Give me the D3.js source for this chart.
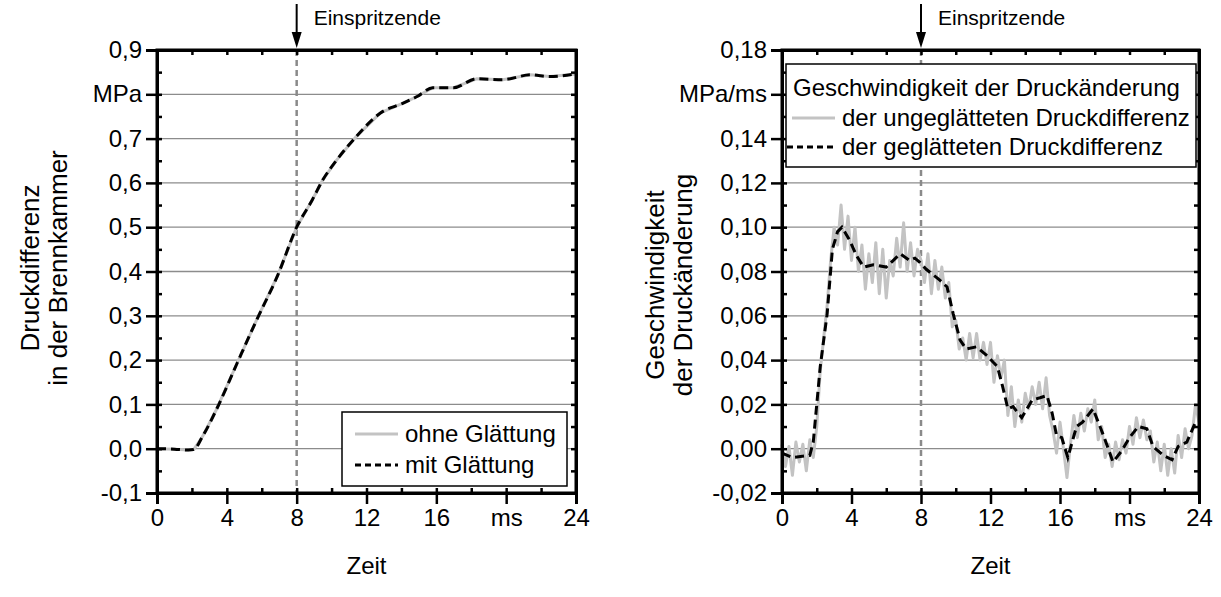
<!DOCTYPE html>
<html><head><meta charset="utf-8">
<script src="https://cdn.jsdelivr.net/npm/d3@7/dist/d3.min.js"></script>
<style>
body{margin:0;background:#fff;}
text{font-family:"Liberation Sans",Arial,sans-serif;fill:#000;}
</style></head><body>
<svg id="c" width="1221" height="597"></svg>
<script>
// ---------- DATA ----------
// Left chart: Druckdifferenz (MPa) over Zeit (ms)
const pressTime = [0, 1, 1.8, 2.1, 2.6, 3.4, 4.6, 5.7, 6.9, 8.0, 8.9, 9.5, 10.3, 11.4, 12.8, 14.1, 14.9, 15.8, 17.0, 18.3, 19.8, 21.4, 22.5, 24];
const pressSmooth = [0, -0.001, -0.003, -0.002, 0.027, 0.088, 0.194, 0.29, 0.39, 0.50, 0.562, 0.607, 0.652, 0.704, 0.758, 0.78, 0.795, 0.815, 0.815, 0.835, 0.833, 0.844, 0.84, 0.846];
const pressRaw = [0, -0.001, -0.003, -0.002, 0.027, 0.088, 0.194, 0.29, 0.39, 0.50, 0.562, 0.607, 0.652, 0.704, 0.758, 0.78, 0.795, 0.815, 0.815, 0.835, 0.833, 0.844, 0.84, 0.846];

// Right chart: Geschwindigkeit der Druckänderung (MPa/ms)
const rateSmoothTime = [0, 0.6, 1.6, 1.8, 2.2, 2.6, 2.9, 3.2, 3.45, 3.9, 4.3, 4.7, 5.25, 6.0, 6.8, 7.35, 7.65, 7.95, 8.3, 9.1, 9.5, 9.85, 10.25, 10.6, 11.2, 11.8, 12.4, 12.7, 13.0, 13.3, 13.8, 14.4, 14.85, 15.25, 15.55, 15.8, 16.1, 16.45, 16.95, 17.3, 17.9, 18.5, 19.05, 19.55, 20.0, 20.5, 21.0, 21.35, 21.95, 22.45, 22.8, 23.3, 23.8, 24];
const rateSmooth = [-0.002, -0.004, -0.003, 0.003, 0.037, 0.061, 0.09, 0.098, 0.1, 0.094, 0.087, 0.082, 0.083, 0.082, 0.088, 0.085, 0.086, 0.084, 0.081, 0.076, 0.073, 0.061, 0.049, 0.045, 0.046, 0.042, 0.037, 0.028, 0.018, 0.019, 0.014, 0.022, 0.023, 0.024, 0.016, 0.006, 0.005, -0.004, 0.01, 0.012, 0.018, 0.006, -0.006, -0.001, 0.005, 0.01, 0.009, 0.001, -0.003, -0.005, 0.001, 0.003, 0.012, 0.012];
const rateRawStep = 0.2; // ms between raw samples
const rateRaw = [0.002, -0.008, 0.001, -0.012, 0.003, -0.006, 0.002, -0.010, 0.004, -0.004,
  0.010, 0.035, 0.050, 0.065, 0.085, 0.100, 0.092, 0.110, 0.090, 0.105,
  0.085, 0.100, 0.080, 0.092, 0.072, 0.088, 0.075, 0.093, 0.070, 0.090,
  0.068, 0.085, 0.078, 0.095, 0.082, 0.102, 0.080, 0.093, 0.078, 0.090,
  0.085, 0.075, 0.088, 0.070, 0.085, 0.072, 0.082, 0.068, 0.075, 0.055,
  0.058, 0.045, 0.050, 0.040, 0.052, 0.041, 0.052, 0.040, 0.048, 0.038,
  0.048, 0.030, 0.042, 0.032, 0.040, 0.015, 0.028, 0.010, 0.022, 0.012,
  0.025, 0.018, 0.028, 0.020, 0.030, 0.018, 0.032, 0.015, 0.008, -0.002,
  0.012, 0.000, -0.013, 0.002, 0.015, 0.005, 0.016, 0.008, 0.018, 0.012,
  0.022, 0.004, 0.010, -0.004, 0.002, -0.008, 0.003, -0.005, 0.004, -0.002,
  0.010, 0.002, 0.014, 0.005, 0.013, 0.004, 0.008, -0.006, 0.003, -0.010,
  0.002, -0.012, 0.000, -0.011, 0.006, -0.004, 0.009, 0.000, 0.006, 0.020, 0.012];

const xTicks = [0, 4, 8, 12, 16, 20, 24];
const xTickLabels = ["0", "4", "8", "12", "16", "ms", "24"];
const leftYTicks = [-0.1, 0, 0.1, 0.2, 0.3, 0.4, 0.5, 0.6, 0.7, 0.8, 0.9];
const leftYLabels = ["-0,1", "0,0", "0,1", "0,2", "0,3", "0,4", "0,5", "0,6", "0,7", "MPa", "0,9"];
const rightYTicks = [-0.02, 0, 0.02, 0.04, 0.06, 0.08, 0.10, 0.12, 0.14, 0.16, 0.18];
const rightYLabels = ["-0,02", "0,00", "0,02", "0,04", "0,06", "0,08", "0,10", "0,12", "0,14", "MPa/ms", "0,18"];
const injectionEnd = 8;

// ---------- DRAW ----------
const svg = d3.select("#c");
const FS_TICK = 24, FS_XTITLE = 24, FS_YTITLE = 26, FS_LEG = 24, FS_NOTE = 21;

function panel(o) {
  const g = svg.append("g");
  const x = d3.scaleLinear().domain([0, 24]).range([o.x0, o.x1]);
  const y = d3.scaleLinear().domain(o.yDom).range([o.y1, o.y0]);

  g.selectAll(".grid").data(o.yTicks.filter(v => v > o.yDom[0] + 1e-9 && v < o.yDom[1] - 1e-9))
    .enter().append("line")
    .attr("x1", o.x0).attr("x2", o.x1)
    .attr("y1", d => y(d)).attr("y2", d => y(d))
    .attr("stroke", "#8c8c8c").attr("stroke-width", 1.3);

  g.append("line").attr("x1", x(injectionEnd)).attr("x2", x(injectionEnd))
    .attr("y1", o.y0).attr("y2", o.y1)
    .attr("stroke", "#8a8a8a").attr("stroke-width", 2.5).attr("stroke-dasharray", "6,4");

  g.append("path").datum(o.raw)
    .attr("fill", "none").attr("stroke", "#c3c3c3").attr("stroke-width", 3)
    .attr("stroke-linejoin", "round")
    .attr("d", d3.line().x(d => x(d[0])).y(d => y(d[1])));
  g.append("path").datum(o.smooth)
    .attr("fill", "none").attr("stroke", "#000").attr("stroke-width", 3)
    .attr("stroke-dasharray", "9,5")
    .attr("d", d3.line().curve(o.curve).x(d => x(d[0])).y(d => y(d[1])));

  const minorX = d3.range(0, 25, 2);
  const minorY = d3.range(o.yDom[0], o.yDom[1] + o.minorStep / 2, o.minorStep);
  const bx = d3.axisBottom(x).tickValues(xTicks).tickSize(11).tickFormat((d, i) => xTickLabels[i]).tickPadding(5);
  g.append("g").attr("transform", `translate(0,${o.y1})`).call(bx);
  g.append("g").attr("transform", `translate(0,${o.y1})`).call(d3.axisBottom(x).tickValues(minorX).tickSize(-5).tickFormat(""));
  g.append("g").attr("transform", `translate(0,${o.y0})`).call(d3.axisTop(x).tickValues(minorX).tickSize(-5).tickFormat(""));
  const ly = d3.axisLeft(y).tickValues(o.yTicks).tickSize(11).tickFormat((d, i) => o.yLabels[i]).tickPadding(4);
  g.append("g").attr("transform", `translate(${o.x0},0)`).call(ly);
  g.append("g").attr("transform", `translate(${o.x0},0)`).call(d3.axisLeft(y).tickValues(minorY).tickSize(-5).tickFormat(""));
  g.append("g").attr("transform", `translate(${o.x1},0)`).call(d3.axisRight(y).tickValues(minorY).tickSize(-5).tickFormat(""));

  g.selectAll(".domain").attr("stroke", "#000").attr("stroke-width", 3);
  g.selectAll(".tick line").attr("stroke", "#000").attr("stroke-width", 2.5);
  g.selectAll(".tick text").style("font-family", '"Liberation Sans", Arial, sans-serif').style("font-size", FS_TICK + "px").attr("fill", "#000");
  g.append("rect").attr("x", o.x0).attr("y", o.y0).attr("width", o.x1 - o.x0).attr("height", o.y1 - o.y0)
    .attr("fill", "none").attr("stroke", "#000").attr("stroke-width", 3);

  g.append("text").attr("x", (o.x0 + o.x1) / 2).attr("y", 574).attr("text-anchor", "middle")
    .style("font-size", FS_XTITLE + "px").text("Zeit");
  o.yTitle.forEach((t, i) => {
    g.append("text").attr("transform", `translate(${o.yTitleX[i]},${o.yTitleY}) rotate(-90)`)
      .attr("text-anchor", "middle").style("font-size", FS_YTITLE + "px").text(t);
  });

  const ax = x(injectionEnd);
  g.append("line").attr("x1", ax).attr("x2", ax).attr("y1", 4).attr("y2", 36)
    .attr("stroke", "#000").attr("stroke-width", 2);
  g.append("path").attr("d", `M${ax - 5},32 L${ax + 5},32 L${ax},48 Z`).attr("fill", "#000");
  g.append("text").attr("x", ax + 17).attr("y", 25).style("font-size", FS_NOTE + "px").text("Einspritzende");
  return { g, x, y };
}

const L = panel({
  x0: 157, x1: 576, y0: 50, y1: 493, yDom: [-0.1, 0.9], minorStep: 0.05,
  yTicks: leftYTicks, yLabels: leftYLabels,
  raw: pressTime.map((t, i) => [t, pressRaw[i]]),
  smooth: pressTime.map((t, i) => [t, pressSmooth[i]]),
  curve: d3.curveMonotoneX,
  yTitle: ["Druckdifferenz", "in der Brennkammer"], yTitleX: [39, 67], yTitleY: 268
});

const R = panel({
  x0: 782, x1: 1199, y0: 50, y1: 493, yDom: [-0.02, 0.18], minorStep: 0.01,
  yTicks: rightYTicks, yLabels: rightYLabels,
  raw: rateRaw.map((v, i) => [i * rateRawStep, v]),
  smooth: rateSmoothTime.map((t, i) => [t, rateSmooth[i]]),
  curve: d3.curveLinear,
  yTitle: ["Geschwindigkeit", "der Druckänderung"], yTitleX: [664, 692], yTitleY: 285
});

function legend(g, bx, by, bw, bh, items, fs) {
  g.append("rect").attr("x", bx).attr("y", by).attr("width", bw).attr("height", bh)
    .attr("fill", "#fff").attr("stroke", "#000").attr("stroke-width", 1.5);
  items.forEach(it => {
    if (it.type !== "title") {
      g.append("line").attr("x1", it.lx0).attr("x2", it.lx1).attr("y1", it.ly).attr("y2", it.ly)
        .attr("stroke", it.type === "raw" ? "#c3c3c3" : "#000").attr("stroke-width", 3)
        .attr("stroke-dasharray", it.type === "raw" ? null : "6,4");
    }
    g.append("text").attr("x", it.tx).attr("y", it.ty).style("font-size", fs + "px").text(it.label);
  });
}
legend(L.g, 342, 412, 225, 74, [
  { type: "raw", label: "ohne Glättung", lx0: 355, lx1: 398, ly: 434, tx: 405, ty: 442 },
  { type: "smooth", label: "mit Glättung", lx0: 355, lx1: 398, ly: 465, tx: 405, ty: 473 }
], FS_LEG);
legend(R.g, 786, 64, 410, 103, [
  { type: "title", label: "Geschwindigkeit der Druckänderung", tx: 793, ty: 96 },
  { type: "raw", label: "der ungeglätteten Druckdifferenz", lx0: 792, lx1: 835, ly: 118, tx: 842, ty: 126 },
  { type: "smooth", label: "der geglätteten Druckdifferenz", lx0: 787, lx1: 835, ly: 147, tx: 842, ty: 155 }
], FS_LEG);
</script>
</body></html>
